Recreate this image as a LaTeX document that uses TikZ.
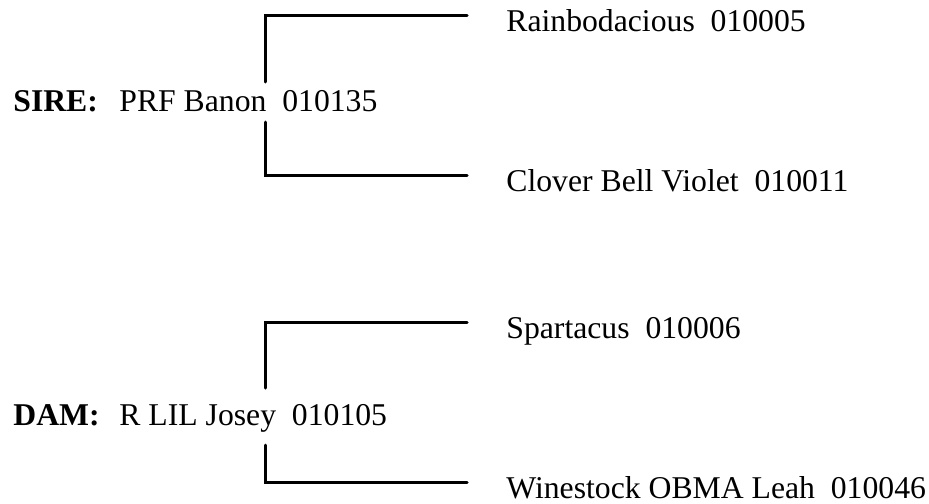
\documentclass[tikz,border=0pt]{standalone}
\usepackage{fontspec}
\setmainfont{Liberation Serif}

\begin{document}
\begin{tikzpicture}[x=0.5pt, y=-0.5pt,
                    every node/.style={inner sep=0pt, anchor=base west, font=\fontsize{15.85}{19}\selectfont},
                    tag/.style={font=\fontsize{15.85}{19}\selectfont\bfseries},
                    bracket/.style={line width=1.5pt, line cap=round}
]
\useasboundingbox (0,0) rectangle (929,503);

% sire side
\node [tag] at (13,111) (sire) {SIRE:};
\node at (119,111) (sirename) {PRF Banon\ \ 010135};
\node at (506,31) (sire1) {Rainbodacious\ \ 010005};
\node at (506,191) (sire2) {Clover Bell Violet\ \ 010011};
%
\coordinate (sireUp) at (265,82);
\coordinate (sireDown) at (265,122);
\coordinate (sireEnd1) at (467,15);
\coordinate (sireEnd2) at (467,175);
\draw [bracket] (sireUp) |- (sireEnd1);
\draw [bracket] (sireDown) |- (sireEnd2);

% dam side
\node [tag] at (13,425) (dam) {DAM:};
\node at (119,425) (damname) {R LIL Josey\ \ 010105};
\node at (506,338) (dam1) {Spartacus\ \ 010006};
\node at (506,498) (dam2) {Winestock OBMA Leah\ \ 010046};
%
\coordinate (damUp) at (265,388);
\coordinate (damDown) at (265,445);
\coordinate (damEnd1) at (467,322);
\coordinate (damEnd2) at (467,482);
\draw [bracket] (damUp) |- (damEnd1);
\draw [bracket] (damDown) |- (damEnd2);
\end{tikzpicture}
\end{document}
